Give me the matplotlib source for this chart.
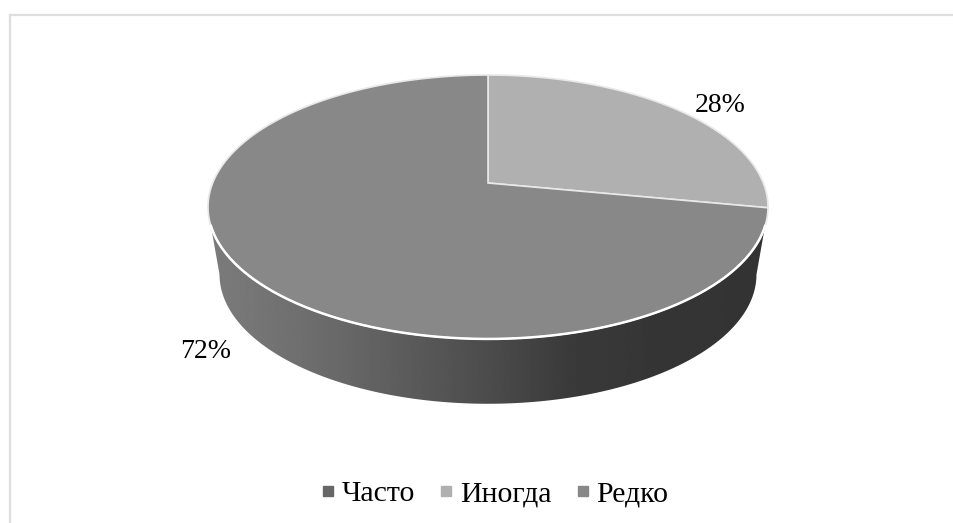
import numpy as np
import matplotlib
matplotlib.use("Agg")
import matplotlib.pyplot as plt
from matplotlib.lines import Line2D
from matplotlib.patches import Polygon

plt.rcParams['font.family'] = ['Liberation Serif', 'DejaVu Serif']

categories = ["Часто", "Иногда", "Редко"]
values = [0, 28, 72]
value_labels = ["28%", "72%"]
colors = ["#666666", "#b0b0b0", "#888888"]

k = 0.1818  # perspective of the tilted disc


def project(angle, cx, cy, a, b):
    # angle is measured clockwise from 12 o'clock, in radians
    u = np.sin(angle)
    v = np.cos(angle)
    w = 1 + k * v
    return cx + a * u / w, cy - b * v / w


fig = plt.figure(figsize=(9.54, 5.23), dpi=100)
ax = fig.add_axes([0, 0, 1, 1])
ax.set_xlim(0, 954)
ax.set_ylim(523, 0)
ax.axis("off")

# frame, only top and left are visible
ax.plot([10, 954], [15, 15], color="#dedede", lw=1.6)
ax.plot([10, 10], [15, 523], color="#dedede", lw=1.6)

# side of the disc with a horizontal gradient
t = np.linspace(0, 2 * np.pi, 721)
tx, ty = project(t, 488, 183, 275.3, 127.6)
bx, by = project(t, 488, 251, 264, 125)
mask = (t > np.pi / 2) & (t < 3 * np.pi / 2) & (ty >= 225)
top_edge = np.column_stack([tx[mask], ty[mask]])
mask2 = (t > np.pi / 2) & (t < 3 * np.pi / 2) & (by >= 274)
low_edge = np.column_stack([bx[mask2], by[mask2]])
side = Polygon(np.vstack([top_edge, low_edge[::-1]]), closed=True, fc="none", ec="none")
ax.add_patch(side)
grad = np.interp(np.linspace(0, 1, 300), [0, 0.2, 0.5, 0.65, 0.8, 1], [0x7c, 0x6c, 0x4c, 0x3a, 0x35, 0x33]) / 255
im = ax.imshow(grad[None, :], cmap="gray", vmin=0, vmax=1, extent=[208, 768, 404, 207], aspect="auto", zorder=1)
im.set_clip_path(side)
ax.set_xlim(0, 954)
ax.set_ylim(523, 0)

# top face, slices from the values
total = sum(values)
start = 0.0
for val, col in zip(values, colors):
    if val == 0:
        continue
    end = start + val / total * 2 * np.pi
    a = np.linspace(start, end, 400)
    x, y = project(a, 488, 183, 275.3, 127.6)
    pts = np.column_stack([np.r_[488, x], np.r_[183, y]])
    ax.add_patch(Polygon(pts, closed=True, fc=col, ec="#e8e8e8", lw=1.2, zorder=2))
    start = end

# white line along the front rim
ax.plot(top_edge[:, 0], top_edge[:, 1], color="white", lw=1.8, zorder=3)

ax.text(720, 105, value_labels[0], fontsize=20, ha="center", va="center", color="black")
ax.text(206, 351, value_labels[1], fontsize=20, ha="center", va="center", color="black")

handles = [Line2D([], [], ls="none", marker="s", ms=6.5, mfc=c, mec=c) for c in colors]
ax.legend(handles, categories, loc="center", bbox_to_anchor=(494.5 / 954, 1 - 494 / 523),
          ncol=3, frameon=False, fontsize=21.5, handlelength=0.5, handletextpad=0.2,
          columnspacing=0.8, labelcolor="black")

fig.savefig("out.png", dpi=100)
